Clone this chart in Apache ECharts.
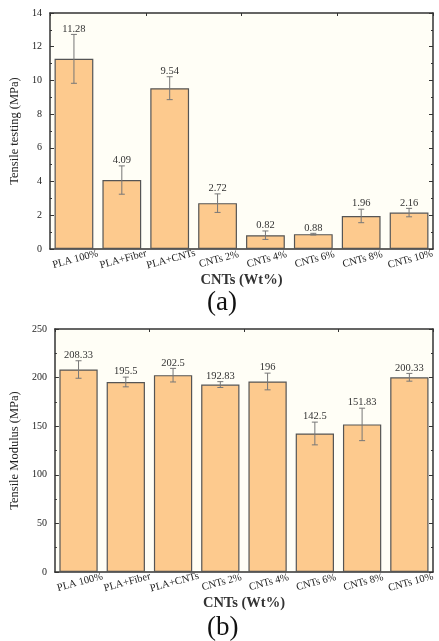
<!DOCTYPE html>
<html><head><meta charset="utf-8">
<script src="https://cdn.jsdelivr.net/npm/echarts@6/dist/echarts.min.js"></script>
<style>html,body{margin:0;padding:0;background:#fff}#c{width:439px;height:641px}</style>
</head><body><div id="c"></div>
<script>
const categories = ['PLA 100%','PLA+Fiber','PLA+CNTs','CNTs 2%','CNTs 4%','CNTs 6%','CNTs 8%','CNTs 10%'];
const tensileValues = [11.28, 4.09, 9.54, 2.72, 0.82, 0.88, 1.96, 2.16];
const tensileErrors = [1.45, 0.84, 0.68, 0.55, 0.25, 0.05, 0.40, 0.25];
const modulusValues = [208.33, 195.5, 202.5, 192.83, 196, 142.5, 151.83, 200.33];
const modulusErrors = [9, 5, 7, 3, 8.6, 11.7, 16.7, 4];

const FONT = '"Liberation Serif","Times New Roman",serif';
const chart = echarts.init(document.getElementById('c'), null, {renderer:'canvas'});

function errSeries(xi, yi, vals, errs){
  return {
    type:'custom', xAxisIndex:xi, yAxisIndex:yi, z:5,
    data: vals.map((v,i)=>[i, v, errs[i]]),
    renderItem(params, api){
      const i = api.value(0), v = api.value(1), e = api.value(2);
      const top = api.coord([i, v+e]);
      const bot = api.coord([i, v-e]);
      const x = top[0], w = 3;
      const st = {stroke:'#777', lineWidth:1};
      return {type:'group', children:[
        {type:'line', shape:{x1:x,y1:top[1],x2:x,y2:bot[1]}, style:st},
        {type:'line', shape:{x1:x-w,y1:top[1],x2:x+w,y2:top[1]}, style:st},
        {type:'line', shape:{x1:x-w,y1:bot[1],x2:x+w,y2:bot[1]}, style:st},
        {type:'text', x:x, y:top[1], style:{text:String(v), fill:'#333', font:'10.5px '+FONT, align:'center', verticalAlign:'bottom'}}
      ]};
    }
  };
}

function xAx(gi, name, gap){
  return {
    type:'category', gridIndex:gi, data:categories, position:'bottom',
    axisLine:{onZero:false, lineStyle:{color:'#333', width:1.5}},
    axisTick:{show:true, inside:true, alignWithLabel:true, length:4, lineStyle:{color:'#333'}},
    axisLabel:{interval:0, rotate:15, fontFamily:FONT, fontSize:10.5, color:'#222', margin:5, align:'center', verticalAlign:'top'},
    name:name, nameLocation:'middle', nameGap:gap,
    nameTextStyle:{fontFamily:FONT, fontSize:14.5, fontWeight:'bold', color:'#333'}
  };
}
function xTop(gi){
  return {
    type:'category', gridIndex:gi, data:categories, position:'top',
    axisLine:{onZero:false, lineStyle:{color:'#333', width:1.5}},
    axisTick:{show:true, inside:true, alignWithLabel:false, length:3, lineStyle:{color:'#333'}},
    axisLabel:{show:false}
  };
}
function yAx(gi, max, interval, name, gap){
  return {
    type:'value', gridIndex:gi, min:0, max:max, interval:interval, position:'left',
    axisLine:{show:true, onZero:false, lineStyle:{color:'#333', width:1.5}},
    axisTick:{show:true, inside:true, length:4, lineStyle:{color:'#333'}},
    minorTick:{show:true, splitNumber:2, length:2, lineStyle:{color:'#333'}},
    splitLine:{show:false},
    axisLabel:{fontFamily:FONT, fontSize:10, color:'#222', margin:8},
    name:name, nameLocation:'middle', nameGap:gap, nameRotate:90,
    nameTextStyle:{fontFamily:FONT, fontSize:12.5, color:'#222'}
  };
}
function yRight(gi, max, interval){
  return {
    type:'value', gridIndex:gi, min:0, max:max, interval:interval, position:'right',
    axisLine:{show:true, onZero:false, lineStyle:{color:'#333', width:1.5}},
    axisTick:{show:true, inside:true, length:4, lineStyle:{color:'#333'}},
    minorTick:{show:true, splitNumber:2, length:2, lineStyle:{color:'#333'}},
    splitLine:{show:false}, axisLabel:{show:false}
  };
}

const barStyle = {color:'#fdca8e', borderColor:'#555', borderWidth:1.2};

chart.setOption({
  animation:false,
  backgroundColor:'#fff',
  grid:[
    {left:50, top:13, width:383, height:236, show:true, backgroundColor:'#fffef6', borderWidth:0},
    {left:53, top:329, width:380, height:243, show:true, backgroundColor:'#fffef6', borderWidth:0}
  ],
  xAxis:[xAx(0,'CNTs (Wt%)',22), xTop(0), xAx(1,'CNTs (Wt%)',23), xTop(1)],
  yAxis:[yAx(0,14,2,'Tensile testing (MPa)',26), yRight(0,14,2), yAx(1,250,50,'Tensile Modulus (MPa)',31), yRight(1,250,50)],
  graphic:[
    {type:'text', left:207, top:289, style:{text:'(a)', font:'27px '+FONT, fill:'#111'}},
    {type:'text', left:207, top:614, style:{text:'(b)', font:'27px '+FONT, fill:'#111'}}
  ],
  series:[
    {type:'bar', xAxisIndex:0, yAxisIndex:0, data:tensileValues, barWidth:'81%', itemStyle:barStyle},
    errSeries(0,0,tensileValues,tensileErrors),
    {type:'bar', xAxisIndex:2, yAxisIndex:2, data:modulusValues, barWidth:'81%', itemStyle:barStyle},
    errSeries(2,2,modulusValues,modulusErrors)
  ]
});
</script></body></html>
